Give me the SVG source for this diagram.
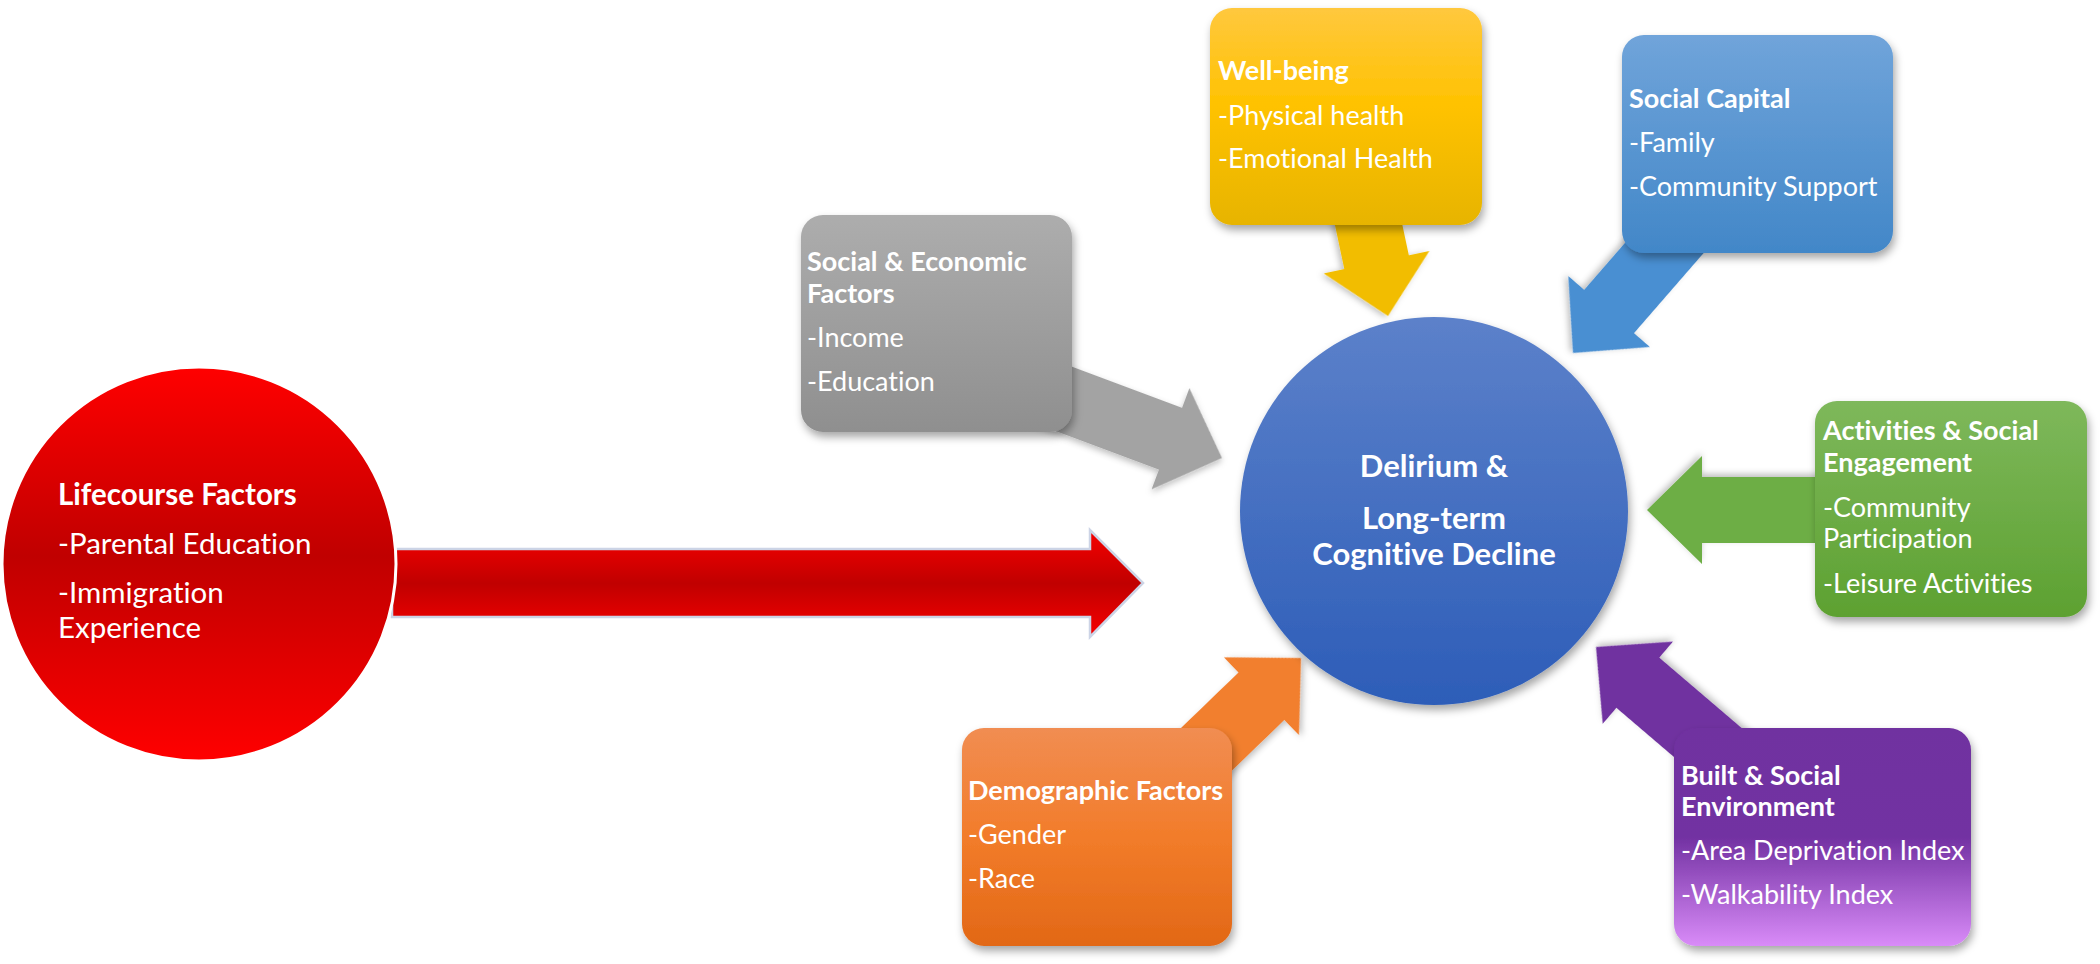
<svg xmlns="http://www.w3.org/2000/svg" width="2100" height="964" viewBox="0 0 2100 964">
<defs>
<style>
text{font-family:Lato,"Liberation Sans",sans-serif;fill:#fff;font-variant-ligatures:none;font-feature-settings:"liga" 0,"clig" 0}
.t{font-size:27px}
.b{font-size:27px;font-weight:bold}
.rt{font-size:29.5px}
.rb{font-size:29.5px;font-weight:bold}
.ct{font-size:31px;font-weight:bold;text-anchor:middle}
</style>
<filter id="sh" x="-20%" y="-20%" width="140%" height="140%">
<feDropShadow dx="2" dy="5" stdDeviation="4" flood-color="#000" flood-opacity="0.35"/>
</filter>
<filter id="shs" x="-20%" y="-20%" width="140%" height="140%">
<feDropShadow dx="1" dy="3" stdDeviation="3" flood-color="#000" flood-opacity="0.25"/>
</filter>
<linearGradient id="gRed" x1="0" y1="0" x2="0" y2="1">
<stop offset="0" stop-color="#FF0000"/><stop offset="0.48" stop-color="#C00000"/><stop offset="1" stop-color="#FF0000"/>
</linearGradient>
<linearGradient id="gRedA" x1="0" y1="0" x2="0" y2="1">
<stop offset="0" stop-color="#F70000"/><stop offset="0.5" stop-color="#C00000"/><stop offset="1" stop-color="#F70000"/>
</linearGradient>
<linearGradient id="gBlueC" x1="0" y1="0" x2="0" y2="1">
<stop offset="0" stop-color="#5C81CA"/><stop offset="1" stop-color="#2D5DB8"/>
</linearGradient>
<linearGradient id="gGray" x1="0" y1="0" x2="0" y2="1">
<stop offset="0" stop-color="#ADADAD"/><stop offset="1" stop-color="#8F8F8F"/>
</linearGradient>
<linearGradient id="gYel" x1="0" y1="0" x2="0" y2="1">
<stop offset="0" stop-color="#FFC83E"/><stop offset="0.45" stop-color="#FFC200"/><stop offset="1" stop-color="#E7B400"/>
</linearGradient>
<linearGradient id="gSky" x1="0" y1="0" x2="0" y2="1">
<stop offset="0" stop-color="#70A4DA"/><stop offset="1" stop-color="#4287C8"/>
</linearGradient>
<linearGradient id="gGrn" x1="0" y1="0" x2="0" y2="1">
<stop offset="0" stop-color="#7EB85B"/><stop offset="1" stop-color="#5DA131"/>
</linearGradient>
<linearGradient id="gOrg" x1="0" y1="0" x2="0" y2="1">
<stop offset="0" stop-color="#F18D52"/><stop offset="0.5" stop-color="#F27C2A"/><stop offset="1" stop-color="#E26816"/>
</linearGradient>
<linearGradient id="gPur" x1="0" y1="0" x2="0" y2="1">
<stop offset="0" stop-color="#7030A0"/><stop offset="0.5" stop-color="#7231A2"/><stop offset="1" stop-color="#D98BF8"/>
</linearGradient>
<path id="arr" d="M-200,-33 L-55,-33 L-55,-54 L0,0 L-55,54 L-55,33 L-200,33 Z"/>
</defs>
<rect width="2100" height="964" fill="#fff"/>

<g id="connectors">
<polygon id="arrow-red" points="392,549 1090,549 1090,530 1143,583 1090,637 1090,617 392,617" fill="url(#gRedA)" stroke="#CCD4E6" stroke-width="2.5"/>
<use id="arrow-gray" href="#arr" fill="#A3A3A3" filter="url(#shs)" transform="translate(1222,458) rotate(20.5)"/>
<use id="arrow-yellow" href="#arr" fill="#F2BD00" filter="url(#shs)" transform="translate(1388,316) rotate(78)"/>
<use id="arrow-blue" href="#arr" fill="#4A8FD2" filter="url(#shs)" transform="translate(1573,353) rotate(131)"/>
<use id="arrow-green" href="#arr" fill="#6DAE45" filter="url(#shs)" transform="translate(1647,510) rotate(180)"/>
<use id="arrow-orange" href="#arr" fill="#F27F2F" filter="url(#shs)" transform="translate(1301,658) rotate(-44)"/>
<use id="arrow-purple" href="#arr" fill="#7030A0" filter="url(#shs)" transform="translate(1596,647) rotate(-139.5)"/>
</g>

<g id="lifecourse">
<circle cx="199" cy="564" r="197" fill="url(#gRed)" stroke="#fff" stroke-width="3"/>
<text class="rb" x="58" y="505">Lifecourse Factors</text>
<text class="rt" x="58" y="554">-Parental Education</text>
<text class="rt" x="58" y="603">-Immigration</text>
<text class="rt" x="58" y="638">Experience</text>
</g>

<g id="outcome">
<circle cx="1434" cy="511" r="194" fill="url(#gBlueC)" filter="url(#sh)"/>
<text class="ct" x="1434" y="477">Delirium &amp;</text>
<text class="ct" x="1434" y="529">Long-term</text>
<text class="ct" x="1434" y="565">Cognitive Decline</text>
</g>

<g id="social-economic">
<rect x="801" y="215" width="271" height="217" rx="22" fill="url(#gGray)" filter="url(#sh)"/>
<text class="b" x="807" y="271">Social &amp; Economic</text>
<text class="b" x="807" y="303">Factors</text>
<text class="t" x="807" y="347">-Income</text>
<text class="t" x="807" y="391">-Education</text>
</g>

<g id="well-being">
<rect x="1210" y="8" width="272" height="217" rx="22" fill="url(#gYel)" filter="url(#sh)"/>
<text class="b" x="1218" y="80">Well-being</text>
<text class="t" x="1218" y="125">-Physical health</text>
<text class="t" x="1218" y="168">-Emotional Health</text>
</g>

<g id="social-capital">
<rect x="1622" y="35" width="271" height="218" rx="22" fill="url(#gSky)" filter="url(#sh)"/>
<text class="b" x="1629" y="108">Social Capital</text>
<text class="t" x="1629" y="152">-Family</text>
<text class="t" x="1629" y="196">-Community Support</text>
</g>

<g id="activities">
<rect x="1815" y="401" width="272" height="216" rx="22" fill="url(#gGrn)" filter="url(#sh)"/>
<text class="b" x="1823" y="440">Activities &amp; Social</text>
<text class="b" x="1823" y="472">Engagement</text>
<text class="t" x="1823" y="517">-Community</text>
<text class="t" x="1823" y="548">Participation</text>
<text class="t" x="1823" y="593">-Leisure Activities</text>
</g>

<g id="demographic">
<rect x="962" y="728" width="270" height="218" rx="22" fill="url(#gOrg)" filter="url(#sh)"/>
<text class="b" x="968" y="800">Demographic Factors</text>
<text class="t" x="968" y="844">-Gender</text>
<text class="t" x="968" y="888">-Race</text>
</g>

<g id="built-environment">
<rect x="1674" y="728" width="297" height="218" rx="22" fill="url(#gPur)" filter="url(#sh)"/>
<text class="b" x="1681" y="785">Built &amp; Social</text>
<text class="b" x="1681" y="816">Environment</text>
<text class="t" x="1681" y="860">-Area Deprivation Index</text>
<text class="t" x="1681" y="904">-Walkability Index</text>
</g>
</svg>
